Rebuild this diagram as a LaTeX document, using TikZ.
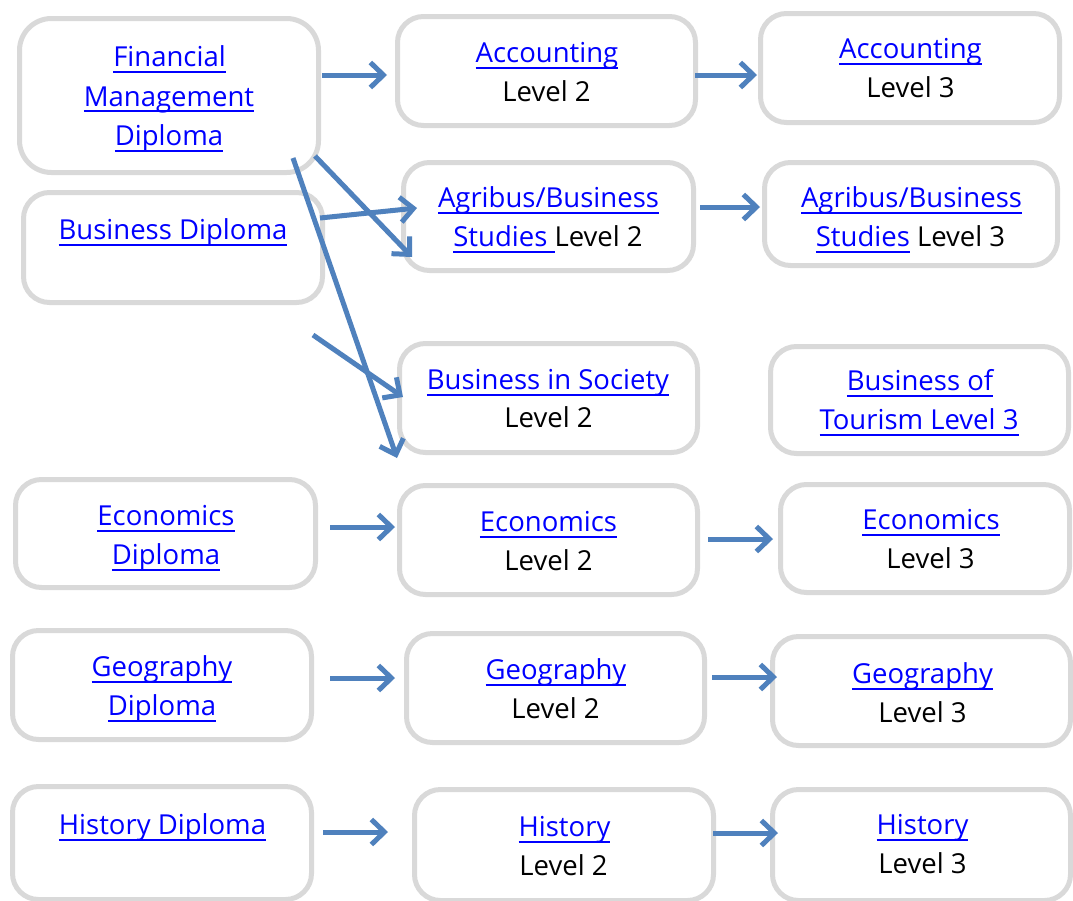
\documentclass[tikz,border=0pt]{standalone}
\usepackage{fontspec}
\setmainfont{Open Sans}
\usetikzlibrary{arrows.meta,calc}
\definecolor{boxgray}{HTML}{D9D9D9}
\definecolor{arrowblue}{HTML}{4F81BD}
\definecolor{linkblue}{HTML}{0000FF}
\newcommand\lnk[1]{{\color{linkblue}\setbox0\hbox{#1}\rlap{\rule[-6pt]{\wd0}{1.8pt}}\box0}}
\begin{document}
\begin{tikzpicture}[x=1pt,y=-1pt,
  box/.style={draw=boxgray,line width=5pt,fill=white,rounded corners=26pt,inner sep=0pt},
  ln/.style={anchor=base,inner sep=0pt,font=\fontsize{27.5}{39}\selectfont},
  arr/.style={draw=arrowblue,line width=5pt,-{Straight Barb[length=13pt,width=25pt]}}]
\useasboundingbox (0,0) rectangle (1073,900);
\fill[white] (0,0) rectangle (1073,900);
% boxes
\node[box,rounded corners=32pt,minimum width=299pt,minimum height=154pt] (fm) at (169,95.5) {};
\node[box,minimum width=299pt,minimum height=110pt] (bd) at (173,247.5) {};
\node[box,minimum width=298pt,minimum height=109pt] (acc2) at (546.5,71) {};
\node[box,minimum width=299pt,minimum height=109pt] (acc3) at (910,68) {};
\node[box,minimum width=290pt,minimum height=108pt] (agr2) at (548.5,216.5) {};
\node[box,minimum width=293pt,minimum height=103pt] (agr3) at (911,214) {};
\node[box,minimum width=298pt,minimum height=109pt] (bis2) at (548.5,398) {};
\node[box,minimum width=298pt,minimum height=107pt] (bot3) at (919.5,400) {};
\node[box,minimum width=300pt,minimum height=108pt] (ecd) at (165.5,533.5) {};
\node[box,minimum width=298pt,minimum height=109pt] (ec2) at (548.5,540) {};
\node[box,minimum width=289pt,minimum height=108pt] (ec3) at (925,538.5) {};
\node[box,minimum width=299pt,minimum height=109pt] (gd) at (162,685) {};
\node[box,minimum width=298pt,minimum height=109pt] (g2) at (555.5,688) {};
\node[box,minimum width=298pt,minimum height=109pt] (g3) at (921.5,691) {};
\node[box,minimum width=299pt,minimum height=113pt] (hd) at (162,843) {};
\node[box,minimum width=299pt,minimum height=111pt] (h2) at (564,845) {};
\node[box,minimum width=298pt,minimum height=111pt] (h3) at (921.5,845) {};
% arrows
\coordinate (free) at (313,335);
\draw[arr] ($(fm.east)+(1,-20.5)$) -- ($(acc2.west)+(-8,4)$);
\draw[arr] ($(acc2.east)+(-3,4)$) -- ($(acc3.west)+(-1,7)$);
\draw[arr] ($(fm.south east)+(-6,-19)$) -- ($(agr2.south west)+(11,-16)$);
\draw[arr] ($(fm.south east)+(-28,-17)$) -- ($(bis2.south west)+(0,3)$);
\draw[arr] ($(bd.east)+(-5,-29.5)$) -- ($(agr2.west)+(16,-8.5)$);
\draw[arr] (free) -- ($(bis2.west)+(6,-1)$);
\draw[arr] ($(agr2.east)+(4,-9.5)$) -- ($(agr3.west)+(-2,-7)$);
\draw[arr] ($(ecd.east)+(12,-6.5)$) -- ($(ec2.west)+(-2,-13)$);
\draw[arr] ($(ec2.east)+(8,-1)$) -- ($(ec3.west)+(-5,0.5)$);
\draw[arr] ($(gd.east)+(16,-7)$) -- ($(g2.west)+(-9,-10)$);
\draw[arr] ($(g2.east)+(5,-11)$) -- ($(g3.west)+(7,-14)$);
\draw[arr] ($(hd.east)+(9,-11)$) -- ($(h2.west)+(-24,-13)$);
\draw[arr] ($(h2.east)+(-3,-12)$) -- ($(h3.west)+(8,-12)$);
% texts
\node[ln] (fm1) at (169.5,66.5) {\lnk{Financial}};
\node[ln] (fm2) at (169,106) {\lnk{Management}};
\node[ln] (fm3) at (169,145.5) {\lnk{Diploma}};
\node[ln] (bd1) at (173,239.5) {\lnk{Business Diploma}};
\node[ln] (acc2a) at (547,62.5) {\lnk{Accounting}};
\node[ln] (acc2b) at (546.5,101.5) {Level 2};
\node[ln] (acc3a) at (910.5,58.5) {\lnk{Accounting}};
\node[ln] (acc3b) at (910.5,97.5) {Level 3};
\node[ln] (agr2a) at (548.5,207.5) {\lnk{Agribus/Business}};
\node[ln] (agr2b) at (548,246.5) {\lnk{Studies\ }Level 2};
\node[ln] (agr3a) at (911.5,207.5) {\lnk{Agribus/Business}};
\node[ln] (agr3b) at (910.5,246.5) {\lnk{Studies} Level 3};
\node[ln] (bis2a) at (548,389.5) {\lnk{Business in Society}};
\node[ln] (bis2b) at (548.5,427.5) {Level 2};
\node[ln] (bot3a) at (920,390.5) {\lnk{Business of}};
\node[ln] (bot3b) at (919,429.5) {\lnk{Tourism Level 3}};
\node[ln] (ecda) at (166,525.5) {\lnk{Economics}};
\node[ln] (ecdb) at (166,564.5) {\lnk{Diploma}};
\node[ln] (ec2a) at (548.5,531.5) {\lnk{Economics}};
\node[ln] (ec2b) at (548.5,570.5) {Level 2};
\node[ln] (ec3a) at (931,529.5) {\lnk{Economics}};
\node[ln] (ec3b) at (930.5,568.5) {Level 3};
\node[ln] (gda) at (162,676.5) {\lnk{Geography}};
\node[ln] (gdb) at (162,715.5) {\lnk{Diploma}};
\node[ln] (g2a) at (556,679.5) {\lnk{Geography}};
\node[ln] (g2b) at (555.5,718.5) {Level 2};
\node[ln] (g3a) at (922.5,683.5) {\lnk{Geography}};
\node[ln] (g3b) at (922.5,722.5) {Level 3};
\node[ln] (hda) at (162.5,834.5) {\lnk{History Diploma}};
\node[ln] (h2a) at (564.5,836.5) {\lnk{History}};
\node[ln] (h2b) at (563.5,875.5) {Level 2};
\node[ln] (h3a) at (922.5,834.5) {\lnk{History}};
\node[ln] (h3b) at (922.5,873.5) {Level 3};
\end{tikzpicture}
\end{document}
